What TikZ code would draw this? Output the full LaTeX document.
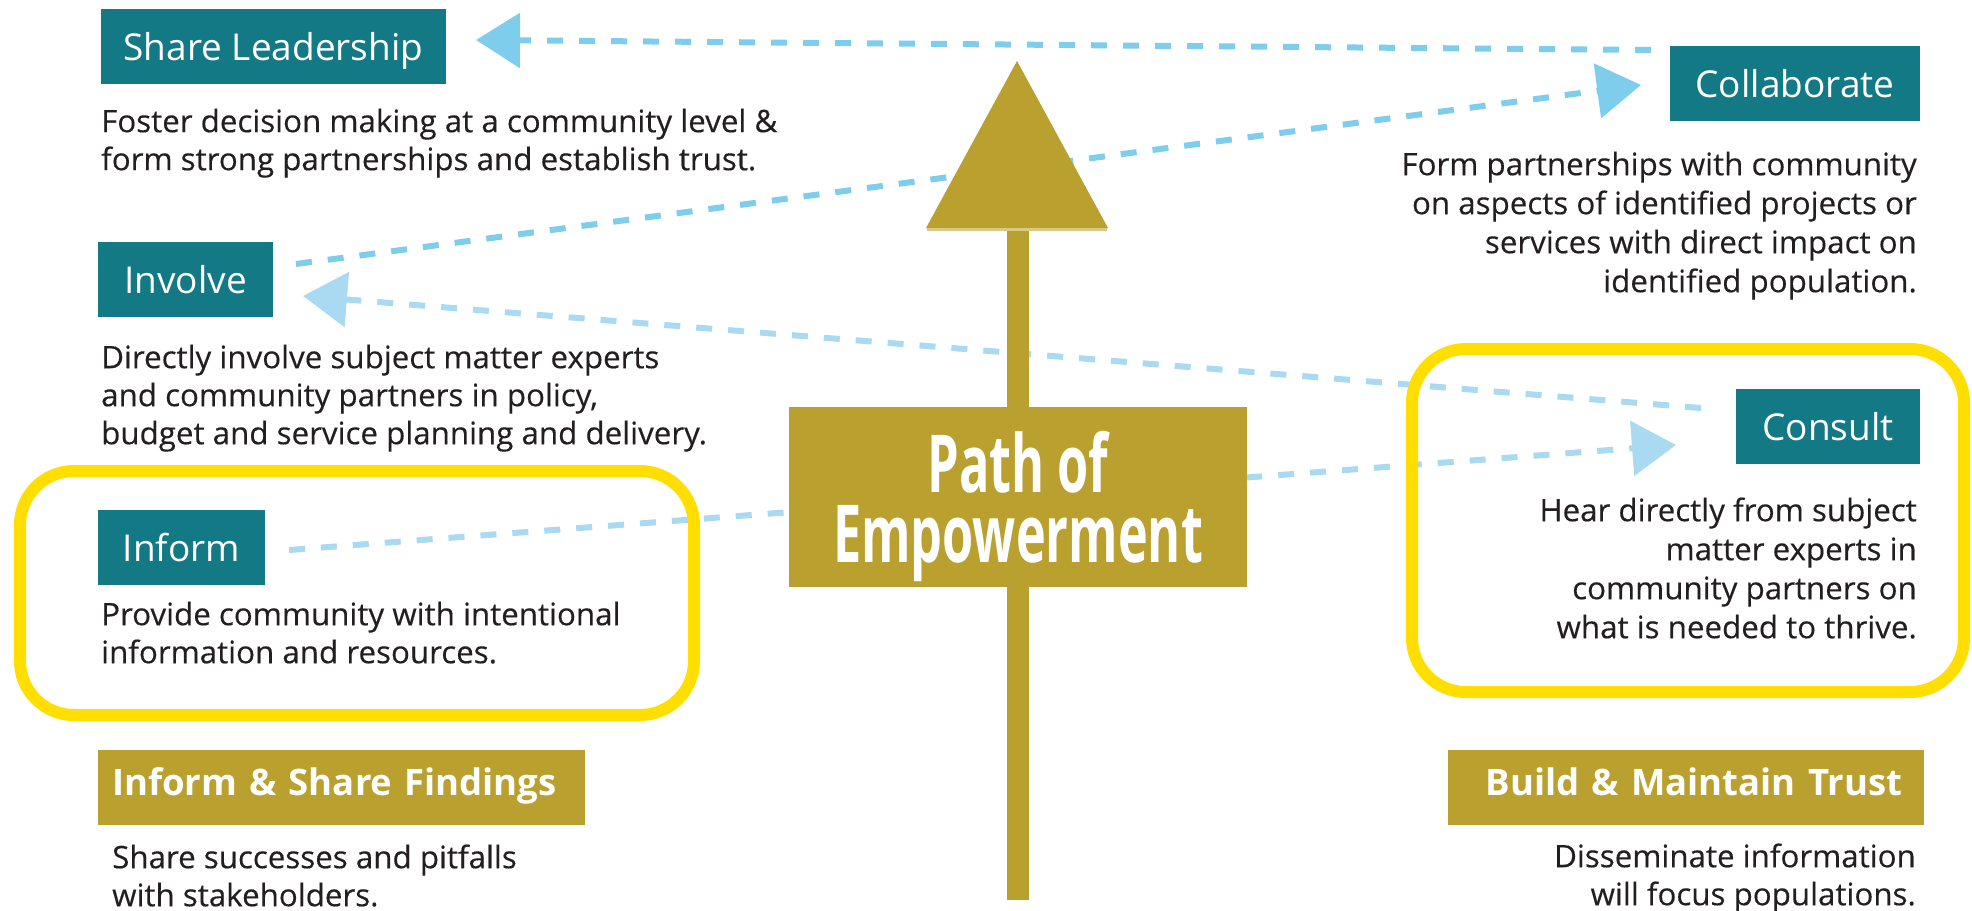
\documentclass[tikz,border=0pt]{standalone}
\usepackage{fontspec}
\setmainfont{Open Sans}
\newfontfamily\pathfont{Open Sans}[FakeStretch=0.63]
\newfontfamily\descfont{Open Sans}[FakeStretch=1.01,FakeBold=0.3]
\usetikzlibrary{arrows.meta,calc}
\definecolor{tealc}{HTML}{127985}
\definecolor{goldc}{HTML}{B9A02F}
\definecolor{goldlight}{HTML}{D8CA86}
\definecolor{yellowc}{HTML}{FFDE00}
\definecolor{blueA}{HTML}{7FCDEC}
\definecolor{blueB}{HTML}{A9DAF1}
\definecolor{darktext}{HTML}{231F20}
\begin{document}
\begin{tikzpicture}[x=1pt,y=-1pt,
  tealbox/.style={fill=tealc, text=white, font=\fontsize{37}{40}\selectfont,
    inner sep=0pt, minimum height=75pt, text height=27pt, text depth=0pt},
  goldbox/.style={fill=goldc, text=white, font=\fontsize{36.5}{40}\selectfont\bfseries,
    inner ysep=0pt, minimum height=75pt, text height=27pt, text depth=12pt},
  pathbox/.style={fill=goldc, inner sep=0pt},
  pathlabel/.style={text=white, font=\pathfont\bfseries\fontsize{80}{70}\selectfont,
    inner sep=0pt, align=center},
  desc/.style={text=darktext, font=\descfont\fontsize{31}{38}\selectfont, inner sep=0pt},
  descwide/.style={desc, font=\descfont\fontsize{31}{39}\selectfont},
  conn/.style={line width=6pt, dash pattern=on 16pt off 16pt},
  tipend/.style={-{Triangle[length=44pt,width=54pt]}},
  hilite/.style={draw=yellowc, line width=12pt, rounded corners=54pt}
]
\useasboundingbox (0,0) rectangle (1972,910);
\fill[white] (0,0) rectangle (1972,910);

% connector end points
\coordinate (c1a) at (1651,50);
\coordinate (c1b) at (476,40);
\coordinate (c2a) at (296,264);
\coordinate (c2b) at (1641,85);
\coordinate (c3a) at (1701,408);
\coordinate (c3b) at (303,296);
\coordinate (c4a) at (289,550);
\coordinate (c4b) at (1676,445);

% dashed connectors (behind everything)
\draw[conn, blueA, tipend] (c1a) -- (c1b);
\draw[conn, blueA, tipend] (c2a) -- (c2b);
\draw[conn, blueB, tipend] (c3a) -- (c3b);
\draw[conn, blueB, tipend] (c4a) -- (c4b);

% big gold arrow
\fill[goldc] (926,228) -- (1108,228) -- (1017,61) -- cycle;
\fill[goldlight] (927,228) rectangle (1107,231);
\fill[goldc] (1007,231) rectangle (1029,900);

% path of empowerment box
\node[pathbox, minimum width=458pt, minimum height=180pt] (path) at (1018,497) {};
\node[pathlabel, anchor=north] (pathtxt) at (1018,430) {\rule{0pt}{62pt}Path of\\Empowerment};

% yellow highlight frames
\draw[hilite] (20,471) rectangle (694,715);
\draw[hilite] (1412,349) rectangle (1964,692);

% teal level boxes
\node[tealbox, minimum width=345pt] (share) at (273.5,46.5) {Share Leadership};
\node[tealbox, minimum width=250pt] (collab) at (1795,83.5) {Collaborate};
\node[tealbox, minimum width=175pt] (involve) at (185.5,279.5) {Involve};
\node[tealbox, minimum width=167pt] (inform) at (181.5,547.5) {Inform};
\node[tealbox, minimum width=184pt] (consult) at (1828,426.5) {Consult};

% gold boxes
\node[goldbox, minimum width=487pt, inner xsep=14pt, text width=459pt, align=left] (isf) at (341.5,787.5) {Inform \& Share Findings};
\node[goldbox, minimum width=476pt, inner xsep=22pt, text width=432pt, align=right] (bmt) at (1686,787.5) {Build \& Maintain Trust};

% descriptions
\node[desc, anchor=north west, align=left] (sharedesc) at (101,102)
  {\rule{0pt}{30pt}Foster decision making at a community level \&\\form strong partnerships and establish trust.};
\node[descwide, anchor=north east, align=right] (collabdesc) at (1917,145)
  {\rule{0pt}{30pt}Form partnerships with community\\on aspects of identified projects or\\services with direct impact on\\identified population.};
\node[desc, anchor=north west, align=left] (involvedesc) at (101,338)
  {\rule{0pt}{30pt}Directly involve subject matter experts\\and community partners in policy,\\budget and service planning and delivery.};
\node[desc, anchor=north west, align=left] (informdesc) at (101,595)
  {\rule{0pt}{30pt}Provide community with intentional\\information and resources.};
\node[descwide, anchor=north east, align=right] (consultdesc) at (1917,491)
  {\rule{0pt}{30pt}Hear directly from subject\\matter experts in\\community partners on\\what is needed to thrive.};
\node[desc, anchor=north west, align=left] (isfdesc) at (112,838)
  {\rule{0pt}{30pt}Share successes and pitfalls\\with stakeholders.};
\node[desc, anchor=north east, align=right] (bmtdesc) at (1916,837)
  {\rule{0pt}{30pt}Disseminate information\\will focus populations.};
\end{tikzpicture}
\end{document}
